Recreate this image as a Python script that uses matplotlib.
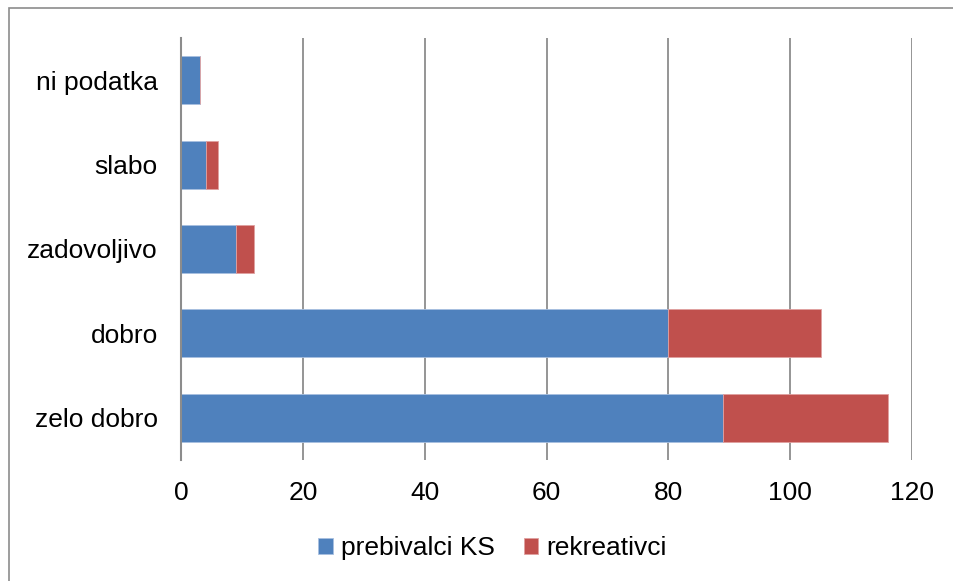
import matplotlib
matplotlib.use('Agg')
import matplotlib.pyplot as plt
from matplotlib.patches import Rectangle

categories = ["zelo dobro", "dobro", "zadovoljivo", "slabo", "ni podatka"]
prebivalci = [89, 80, 9, 4, 3]
rekreativci = [27, 25, 3, 2, 0]

blue = '#4f81bd'
red = '#c0504d'

plt.rcParams['font.family'] = ['Liberation Sans', 'DejaVu Sans']

fig = plt.figure(figsize=(9.54, 5.81), dpi=100)
ax = fig.add_axes([0.19, 0.2083, 0.766, 0.7263])

ypos = range(len(categories))
ax.barh(ypos, prebivalci, height=0.57, color=blue, edgecolor='#a8c0e0', linewidth=0.6,
        label='prebivalci KS', zorder=3)
ax.barh(ypos, rekreativci, height=0.57, left=prebivalci, color=red, edgecolor='#e0a0a0',
        linewidth=0.6, label='rekreativci', zorder=3)

ax.set_xlim(0, 120)
ax.set_ylim(-0.5, len(categories) - 0.5)
ax.set_xticks(range(0, 121, 20))
ax.set_yticks(list(ypos))
ax.set_yticklabels(categories)
ax.tick_params(axis='both', length=0, labelsize=19, colors='black')
ax.tick_params(axis='y', pad=17)
ax.tick_params(axis='x', pad=15)
ax.xaxis.grid(True, color='#8c8c8c', linewidth=1.3, zorder=0)

for s in ['top', 'right', 'bottom']:
    ax.spines[s].set_visible(False)
ax.spines['left'].set_color('#8c8c8c')
ax.spines['left'].set_linewidth(1.5)
ax.spines['left'].set_zorder(4)

fig.legend(loc='center', bbox_to_anchor=(0.516, 1 - 548 / 581), ncol=2, frameon=False,
           fontsize=19, handlelength=0.55, handleheight=0.55, handletextpad=0.3,
           columnspacing=1.1)

fig.patches.append(Rectangle((9 / 954, -0.05), 1.2, 1.05 - 8 / 581, transform=fig.transFigure,
                             fill=False, edgecolor='#8c8c8c', linewidth=1.2))

fig.savefig('out.png', dpi=100)
